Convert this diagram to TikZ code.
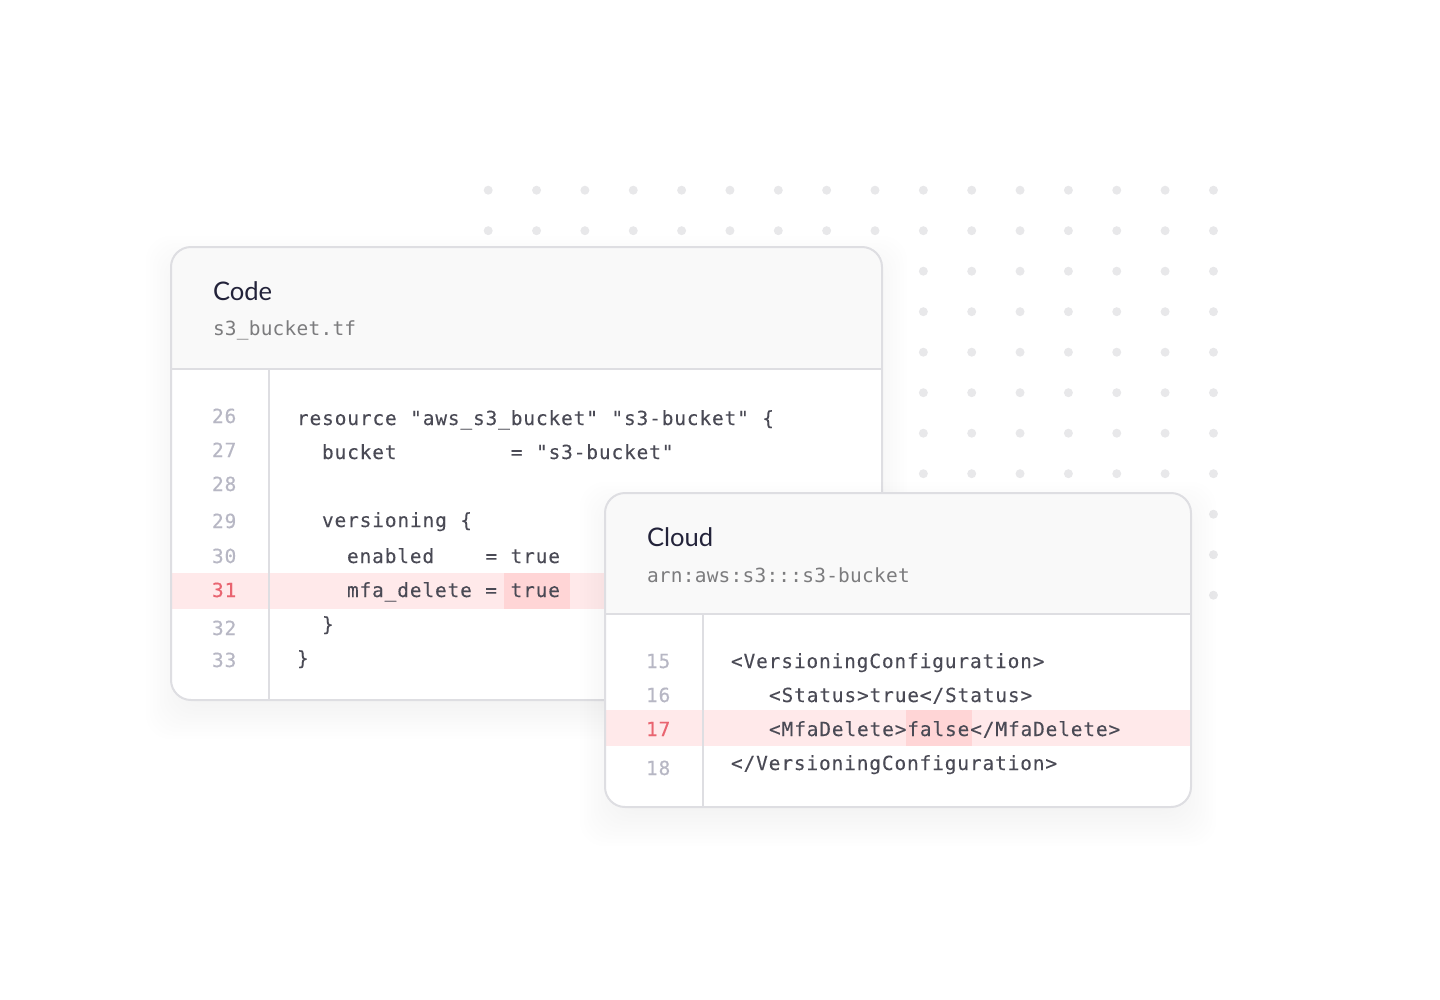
\documentclass[tikz,border=0pt]{standalone}
\usepackage{fontspec}
\usepackage{xcolor}
\setmainfont{Lato}
\newfontfamily\codefont[LetterSpace=4.4,FakeBold=0.12]{DejaVu Sans Mono}
\newfontfamily\subfont[LetterSpace=1.2]{DejaVu Sans Mono}
\newfontfamily\numfont[LetterSpace=4.4,FakeBold=0.45]{DejaVu Sans Mono}
\newcommand{\chsp}{\hspace{10.09pt}}
\newcommand{\codeus}{\_\kern0.645pt\relax}
\newcommand{\subus}{\_\kern0.17pt\relax}
\definecolor{cardline}{HTML}{DEDEE2}
\definecolor{headbg}{HTML}{F9F9F9}
\definecolor{dotc}{HTML}{E8E8EA}
\definecolor{rowbg}{HTML}{FFE9EA}
\definecolor{markbg}{HTML}{FFD5D6}
\definecolor{codec}{HTML}{4A4A55}
\definecolor{subc}{HTML}{7C7C7E}
\definecolor{numc}{HTML}{B7B7C4}
\definecolor{redc}{HTML}{E96470}
\definecolor{titlec}{HTML}{23233A}
\tikzset{
  every node/.style={inner sep=0pt,outer sep=0pt,anchor=base west},
  codetext/.style={text=codec,font=\codefont\fontsize{14.6}{18}\selectfont},
  subtext/.style={text=subc,font=\subfont\fontsize{14.6}{18}\selectfont},
  numtext/.style={text=numc,font=\numfont\fontsize{14.6}{18}\selectfont},
  rednum/.style={text=redc,font=\numfont\fontsize{14.6}{18}\selectfont},
  titletext/.style={text=titlec,font=\fontsize{19.2}{22}\selectfont},
  cardborder/.style={draw=cardline,line width=1.5pt},
}
% #1,#2 top-left; #3,#4 bottom-right; #5 header bottom; #6 divider x
\newcommand{\softshadow}[4]{%
  \foreach \k in {-10,-6.5,...,28}{%
    \fill[black,opacity=0.003,rounded corners=18pt]
      ({#1-\k},{#2+14-\k}) rectangle ({#3+\k},{#4+14+\k});
  }%
}
\newcommand{\cardbase}[6]{%
  \softshadow{#1}{#2}{#3}{#4}
  \fill[white,rounded corners=15pt] (#1,#2) rectangle (#3,#4);
  \fill[headbg] (#1,#5) [rounded corners=15pt] -- (#1,#2) -- (#3,#2) [sharp corners] -- (#3,#5) -- cycle;
}
\newcommand{\cardlines}[6]{%
  \draw[cardline,line width=1.5pt] (#1,#5) -- (#3,#5);
  \draw[cardline,line width=1.5pt] (#6,#5) -- (#6,#4);
  \draw[cardborder,rounded corners=15pt] (#1,#2) rectangle (#3,#4);
}
\begin{document}
\begin{tikzpicture}[x=0.75pt,y=-0.75pt]
\useasboundingbox (0,0) rectangle (1440,1000);
% dot grid
\foreach \c in {0,...,15}{
  \foreach \r in {0,...,10}{
    \fill[dotc] ({488.2+48.35*\c},{190.2+40.5*\r}) circle (4.5);
  }
}
% ---- Code card
\cardbase{171}{247}{882}{700}{369}{269}
\fill[rowbg] (172,573) rectangle (881,609);
\fill[markbg] (504,573) rectangle (570,609);
\cardlines{171}{247}{882}{700}{369}{269}
\node[titletext] (codetitle) at (213,300) {Code};
\node[subtext] (codefile) at (213,335) {s3\subus bucket.tf};
\node[numtext] (n26) at (212,423) {26};
\node[numtext] (n27) at (212,457) {27};
\node[numtext] (n28) at (212,491) {28};
\node[numtext] (n29) at (212,528) {29};
\node[numtext] (n30) at (212,563) {30};
\node[rednum]  (n31) at (212,597) {31};
\node[numtext] (n32) at (212,635) {32};
\node[numtext] (n33) at (212,667) {33};
\node[codetext] (c26) at (297,425) {resource\chsp"aws\codeus s3\codeus bucket"\chsp"s3-bucket"\chsp\{};
\node[codetext] (c27) at (322,459) {bucket\hspace{85.05pt}\hspace{0.645pt}=\chsp"s3-bucket"};
\node[codetext] (c29) at (322,527) {versioning\chsp\{};
\node[codetext] (c30) at (347,563) {enabled\hspace{37.8pt}\hspace{0.645pt}=\chsp true};
\node[codetext] (c31) at (347,597) {mfa\codeus delete\chsp=\chsp true};
\node[codetext] (c32) at (322,631) {\}};
\node[codetext] (c33) at (297,665) {\}};
% ---- Cloud card
\cardbase{605}{493}{1191}{807}{614}{703}
\fill[rowbg] (606,710) rectangle (1190,746);
\fill[markbg] (906,710) rectangle (972,746);
\cardlines{605}{493}{1191}{807}{614}{703}
\node[titletext] (cloudtitle) at (647,546) {Cloud};
\node[subtext] (cloudarn) at (647,582) {arn:aws:s3:::s3-bucket};
\node[numtext] (m15) at (646,668) {15};
\node[numtext] (m16) at (646,702) {16};
\node[rednum]  (m17) at (646,736) {17};
\node[numtext] (m18) at (646,775) {18};
\node[codetext] (x15) at (731,668) {<VersioningConfiguration>};
\node[codetext] (x16) at (769,702) {<Status>true</Status>};
\node[codetext] (x17) at (769,736) {<MfaDelete>false</MfaDelete>};
\node[codetext] (x18) at (731,770) {</VersioningConfiguration>};
\end{tikzpicture}
\end{document}
